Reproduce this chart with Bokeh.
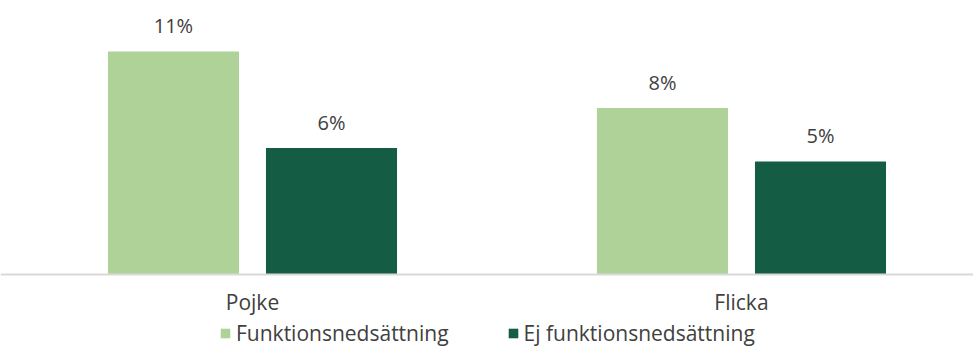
from bokeh.plotting import figure
from bokeh.models import Range1d, ColumnDataSource, Legend, LegendItem, LabelSet, Span
from bokeh.core.properties import value
from bokeh.transform import dodge
from bokeh.embed import file_html
from bokeh.resources import INLINE

categories = ["Pojke", "Flicka"]
series = ["Funktionsnedsättning", "Ej funktionsnedsättning"]
funk = [10.85, 8.1]
ej = [6.15, 5.5]
funk_labels = ["11%", "8%"]
ej_labels = ["6%", "5%"]
colors = ["#AED298", "#145C43"]

FONT = "Open Sans"
TXT = "#404040"

x = [i + 0.5 for i in range(len(categories))]
src = ColumnDataSource(dict(x=x, funk=funk, ej=ej, fl=funk_labels, el=ej_labels,
                            cat=categories, zero=[0] * len(categories)))

p = figure(frame_width=973, frame_height=347, x_range=Range1d(-0.0153, 1.9745),
           y_range=Range1d(-3.552, 13.33),
           output_backend="svg", toolbar_location=None,
           min_border_left=0, min_border_right=0, min_border_top=0, min_border_bottom=0)

off = 0.1616
bw = 0.268
r1 = p.vbar(x=dodge("x", -off, range=p.x_range), top="funk", width=bw, source=src,
            fill_color=colors[0], line_color=None)
r2 = p.vbar(x=dodge("x", off, range=p.x_range), top="ej", width=bw, source=src,
            fill_color=colors[1], line_color=None)

# category axis baseline
p.add_layout(Span(location=0, dimension="width", line_color="#D9D9D9", line_width=2))

for col, lab, d in (("funk", "fl", -off), ("ej", "el", off)):
    ls = LabelSet(x=dodge("x", d, range=p.x_range), y=col, text=lab, source=src,
                  text_align="center", text_baseline="alphabetic", y_offset=18,
                  text_font=value(FONT), text_font_size=value("20px"), text_color=TXT)
    p.add_layout(ls)

# category labels under the baseline
p.add_layout(LabelSet(x="x", y="zero", text="cat", source=src,
                      text_align="center", text_baseline="middle", y_offset=-28,
                      text_font=value(FONT), text_font_size=value("21px"), text_color=TXT))

p.xaxis.visible = False
p.yaxis.visible = False
p.xgrid.visible = False
p.ygrid.visible = False
p.outline_line_color = None

legend = Legend(items=[LegendItem(label=series[0], renderers=[r1]),
                       LegendItem(label=series[1], renderers=[r2])],
                orientation="horizontal", location=(219, 0),
                border_line_alpha=0, background_fill_alpha=0,
                label_text_font=FONT, label_text_font_size="21px", label_text_color=TXT,
                glyph_width=12, glyph_height=12, spacing=58, padding=0, margin=0,
                label_standoff=5, label_height=20)
p.add_layout(legend, "center")

open("out.html", "w").write(file_html(p, INLINE))
